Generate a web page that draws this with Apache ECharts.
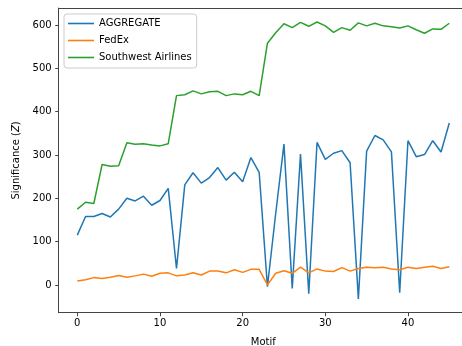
<!DOCTYPE html>
<html>
<head>
<meta charset="utf-8">
<title>Significance by motif</title>
<script src="https://cdn.jsdelivr.net/npm/echarts@6/dist/echarts.min.js"></script>
<style>
  html, body { margin: 0; padding: 0; background: #fff; }
  #chart { width: 462px; height: 346px; }
</style>
</head>
<body>
<div id="chart"></div>
<script>
var motif = [0,1,2,3,4,5,6,7,8,9,10,11,12,13,14,15,16,17,18,19,20,21,22,23,24,25,26,27,28,29,30,31,32,33,34,35,36,37,38,39,40,41,42,43,44,45];
var aggregate = [115,158,158,165,157,175,200,194,205,184,195,223,38,231,259,235,248,271,242,260,238,294,260,-4,165,325,-8,302,-20,329,290,304,310,282,-32,309,345,335,307,-18,333,296,301,333,307,374];
var fedex = [9,12,17,15,18,22,18,21,25,20,27,28,21,23,28,23,32,32,28,35,29,36,36,0,27,33,27,41,28,37,32,31,40,32,38,41,40,41,37,35,41,38,41,43,38,42];
var southwest = [175,191,188,278,274,275,328,325,326,323,321,326,437,439,448,441,446,447,437,441,439,447,437,558,582,603,594,606,597,607,598,583,594,588,605,598,604,598,596,593,598,589,581,591,590,604];
var yTicks = [0,100,200,300,400,500,600];
var xTicks = [0,10,20,30,40];

function pairs(ys) {
  var out = [];
  for (var i = 0; i < ys.length; i++) out.push([motif[i], ys[i]]);
  return out;
}

var chart = echarts.init(document.getElementById('chart'), null, {renderer: 'canvas'});
var font = 'DejaVu Sans';
var spine = {color: '#444', width: 1};

// the original figure is cut on the right, so the axes run past the edge
chart.setOption({
  animation: false,
  backgroundColor: '#fff',
  textStyle: {fontFamily: font},
  grid: {left: 58.7, top: 8.1, width: 409.2, height: 304.6, outerBoundsMode: 'none'},
  legend: {
    orient: 'vertical', left: 64, top: 14,
    icon: 'rect', itemWidth: 26, itemHeight: 1.6, itemGap: 0,
    padding: [1, 5, 2, 4],
    borderColor: '#ccc', borderWidth: 1, borderRadius: 3, backgroundColor: '#fff',
    textStyle: {fontFamily: font, fontSize: 10, color: '#000', lineHeight: 17},
    data: ['AGGREGATE', 'FedEx', 'Southwest Airlines']
  },
  xAxis: [{
    type: 'value', min: -2.25, max: 47.25,
    name: 'Motif', nameLocation: 'middle', nameGap: 25,
    nameTextStyle: {fontFamily: font, fontSize: 10, color: '#000'},
    splitLine: {show: false},
    axisLine: {show: true, onZero: false, lineStyle: spine},
    axisTick: {show: true, length: 3.5, customValues: xTicks, lineStyle: {color: '#444'}},
    axisLabel: {customValues: xTicks, margin: 6, fontFamily: font, fontSize: 10, color: '#000'}
  }, {
    type: 'value', position: 'top', min: -2.25, max: 47.25,
    splitLine: {show: false},
    axisLine: {show: true, onZero: false, lineStyle: spine},
    axisTick: {show: false}, axisLabel: {show: false}
  }],
  yAxis: {
    type: 'value', min: -64, max: 639,
    name: '{a|Significance (}{b|Z}{a|)}', nameLocation: 'middle', nameGap: 34, nameRotate: 90,
    nameTextStyle: {
      rich: {
        a: {fontFamily: font, fontSize: 10, color: '#000'},
        b: {fontFamily: font, fontSize: 10, color: '#000', fontStyle: 'italic'}
      }
    },
    splitLine: {show: false},
    axisLine: {show: true, onZero: false, lineStyle: spine},
    axisTick: {show: true, length: 3.5, customValues: yTicks, lineStyle: {color: '#444'}},
    axisLabel: {customValues: yTicks, margin: 7, fontFamily: font, fontSize: 10, color: '#000'}
  },
  series: [
    {name: 'AGGREGATE', type: 'line', data: pairs(aggregate), symbol: 'none', color: '#1f77b4', lineStyle: {width: 1.5}},
    {name: 'FedEx', type: 'line', data: pairs(fedex), symbol: 'none', color: '#ff7f0e', lineStyle: {width: 1.5}},
    {name: 'Southwest Airlines', type: 'line', data: pairs(southwest), symbol: 'none', color: '#2ca02c', lineStyle: {width: 1.5}}
  ]
});
</script>
</body>
</html>
